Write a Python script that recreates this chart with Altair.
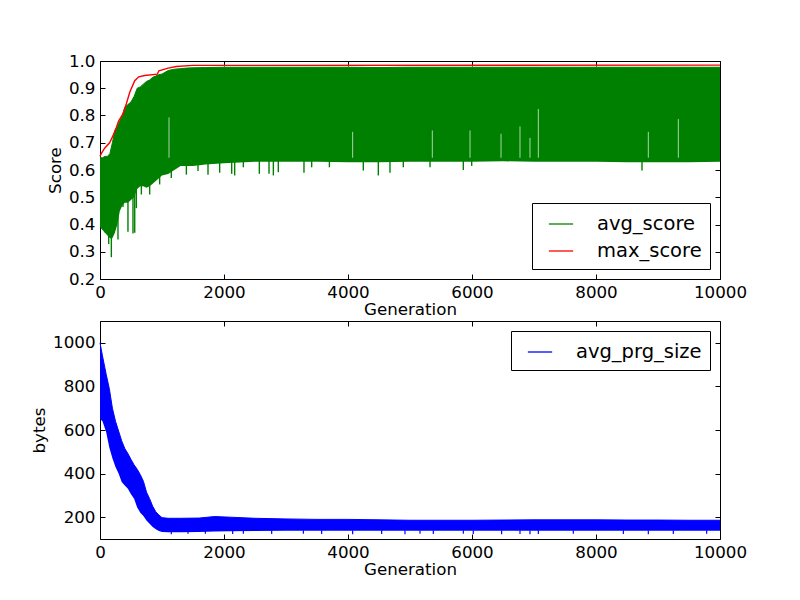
import altair as alt
import pandas as pd

# ---------------- data ----------------
# top panel: avg_score band (lower / upper envelope of the dense oscillation)
avg_gen = [0, 40, 80, 120, 160, 200, 240, 280, 320, 360, 400, 450, 500, 550, 600,
           650, 700, 750, 800, 850, 900, 950, 1000, 1100, 1200, 1300, 1400, 1500,
           1700, 2000, 2500, 3000, 3500, 4000, 4500, 5000, 5500, 6000, 6500, 7000,
           7500, 8000, 8500, 9000, 9500, 10000]
avg_hi = [0.645, 0.645, 0.65, 0.65, 0.66, 0.70, 0.745, 0.76, 0.78, 0.80, 0.83, 0.84,
          0.85, 0.87, 0.90, 0.905, 0.915, 0.925, 0.93, 0.94, 0.945, 0.95, 0.952, 0.965,
          0.97, 0.972, 0.974, 0.975, 0.976, 0.977, 0.977, 0.977, 0.977, 0.977, 0.976,
          0.977, 0.977, 0.977, 0.977, 0.977, 0.977, 0.977, 0.977, 0.977, 0.977, 0.977]
avg_lo = [0.39, 0.38, 0.37, 0.36, 0.35, 0.35, 0.37, 0.40, 0.45, 0.47, 0.48, 0.48,
          0.49, 0.50, 0.53, 0.54, 0.54, 0.535, 0.54, 0.55, 0.56, 0.57, 0.58, 0.585,
          0.60, 0.615, 0.615, 0.615, 0.62, 0.625, 0.63, 0.63, 0.63, 0.628, 0.628,
          0.63, 0.63, 0.63, 0.632, 0.63, 0.63, 0.63, 0.628, 0.628, 0.628, 0.63]
# downward spikes of avg_score
dip_gen = [32, 86, 140, 183, 226, 290, 371, 451, 532, 560, 586, 667, 801, 962,
           1150, 1393, 1581, 1742, 1930, 2124, 2172, 2312, 2570, 2726, 2796, 2876,
           3290, 3414, 3700, 4247, 4489, 4677, 4892, 5323, 5860, 5995, 8742]
dip_lo = [0.388, 0.37, 0.328, 0.28, 0.37, 0.345, 0.464, 0.373, 0.367, 0.37, 0.46,
          0.51, 0.51, 0.547, 0.571, 0.583, 0.596, 0.583, 0.59, 0.586, 0.58, 0.61,
          0.586, 0.586, 0.58, 0.592, 0.59, 0.61, 0.61, 0.598, 0.58, 0.59, 0.61, 0.61,
          0.60, 0.615, 0.598]
# pale gaps inside the avg_score band
gap_gen = [1113, 4075, 5360, 5968, 6468, 6774, 6935, 7070, 8844, 9328]
gap_top = [0.793, 0.74, 0.745, 0.745, 0.733, 0.76, 0.718, 0.824, 0.74, 0.787]

# max_score line
max_gen = [0, 20, 75, 155, 210, 265, 300, 370, 425, 480, 560, 625, 720, 925, 950,
           1100, 1230, 1500, 10000]
max_val = [0.65, 0.66, 0.68, 0.70, 0.726, 0.757, 0.78, 0.806, 0.843, 0.885, 0.928,
           0.942, 0.947, 0.952, 0.964, 0.974, 0.98, 0.984, 0.985]

# bottom panel: avg_prg_size band
prg_gen = [0, 40, 100, 150, 200, 250, 300, 350, 400, 450, 500, 550, 600, 650, 700,
           750, 800, 850, 900, 950, 1000, 1100, 1300, 1600, 1850, 2100, 2500, 3000,
           3500, 4000, 4500, 5000, 5500, 6000, 6500, 7000, 7500, 8000, 8500, 9000,
           9500, 10000]
prg_hi = [1000, 940, 855, 790, 700, 640, 595, 550, 515, 492, 465, 440, 420, 395, 365,
          315, 285, 250, 225, 210, 198, 195, 195, 196, 203, 200, 195, 192, 190, 190,
          188, 186, 186, 186, 187, 188, 188, 188, 187, 187, 186, 186]
prg_lo = [650, 640, 590, 520, 470, 430, 400, 362, 345, 330, 305, 285, 245, 220, 205,
          185, 170, 155, 145, 137, 132, 131, 131, 132, 134, 136, 137, 138, 138, 138,
          138, 138, 138, 138, 138, 138, 138, 138, 138, 138, 138, 138]
# downward spikes of avg_prg_size
pdip_gen = [1150, 1420, 1700, 2140, 2312, 2769, 3280, 3575, 4075, 4543, 4919, 5161,
            5376, 5860, 6021, 6478, 6774, 6935, 7070, 7634, 8441, 8844, 9247, 9785]
pdip_lo = [122, 124, 124, 123, 124, 123, 124, 123, 122, 123, 122, 124, 123, 124,
           123, 122, 123, 122, 123, 124, 123, 122, 123, 124]

x_ticks = [0, 2000, 4000, 6000, 8000, 10000]
score_ticks = [0.2, 0.3, 0.4, 0.5, 0.6, 0.7, 0.8, 0.9, 1.0]
bytes_ticks = [200, 400, 600, 800, 1000]

# ---------------- tables ----------------
df_avg = pd.DataFrame({"gen": avg_gen, "lo": avg_lo, "hi": avg_hi, "series": "avg_score"})
df_max = pd.DataFrame({"gen": max_gen, "val": max_val, "series": "max_score"})
df_dip = pd.DataFrame({"gen": dip_gen, "lo": dip_lo})
df_gap = pd.DataFrame({"gen": gap_gen, "top": gap_top})
df_prg = pd.DataFrame({"gen": prg_gen, "lo": prg_lo, "hi": prg_hi, "series": "avg_prg_size"})
df_pdip = pd.DataFrame({"gen": pdip_gen, "lo": pdip_lo})

FONT = "DejaVu Sans"
W, H = 620, 218
TICK = 5
GREEN, RED, BLUE = "#008000", "#ff0000", "#0000ff"

xs = alt.Scale(domain=[0, 10000], nice=False, zero=False)
ys_top = alt.Scale(domain=[0.2, 1.0], nice=False, zero=False)
ys_bot = alt.Scale(domain=[100, 1100], nice=False, zero=False)


def axis_common(orient, values, **kw):
    return alt.Axis(orient=orient, values=values, offset=-TICK, tickSize=TICK,
                    domain=False, grid=False, tickColor="black", tickWidth=1,
                    labelOverlap=False, labelFlush=False, **kw)


def ax_bottom():
    return axis_common("bottom", x_ticks, format="d", title="Generation",
                       labelPadding=5, titlePadding=1)


def ax_top():
    return axis_common("top", x_ticks, labels=False, title=None)


def ax_left(title, fmt, values):
    return axis_common("left", values, format=fmt, title=title,
                       labelPadding=5, titlePadding=4)


def ax_right(values):
    return axis_common("right", values, labels=False, title=None)


def legend(orient):
    return alt.Legend(title=None, orient=orient, offset=10, symbolType="stroke",
                      symbolSize=590, symbolStrokeWidth=1.3, labelFontSize=19.5,
                      labelFont=FONT, labelColor="black", strokeColor="black",
                      fillColor="white", padding=8, symbolOffset=8, labelOffset=23,
                      rowPadding=4, cornerRadius=0, labelLimit=400)


top_colors = alt.Scale(domain=["avg_score", "max_score"], range=[GREEN, RED])

top_area = alt.Chart(df_avg).mark_area(color=GREEN, opacity=1).encode(
    x=alt.X("gen:Q", scale=xs, axis=ax_bottom()),
    y=alt.Y("lo:Q", scale=ys_top, axis=ax_left("Score", ".1f", score_ticks)),
    y2="hi:Q",
)
top_dips = alt.Chart(df_dip).mark_rule(color=GREEN, strokeWidth=1.4).encode(
    x=alt.X("gen:Q", scale=xs, axis=None),
    y=alt.Y("lo:Q", scale=ys_top, axis=None),
    y2=alt.datum(0.64),
)
top_gaps = alt.Chart(df_gap).mark_rule(color="#a8d4a8", strokeWidth=1).encode(
    x=alt.X("gen:Q", scale=xs, axis=None),
    y=alt.Y("top:Q", scale=ys_top, axis=None),
    y2=alt.datum(0.645),
)
top_edge = alt.Chart(df_avg).mark_line(strokeWidth=1).encode(
    x=alt.X("gen:Q", scale=xs, axis=None),
    y=alt.Y("hi:Q", scale=ys_top, axis=None),
    color=alt.Color("series:N", scale=top_colors, legend=legend("bottom-right")),
)
top_max = alt.Chart(df_max).mark_line(strokeWidth=1.4).encode(
    x=alt.X("gen:Q", scale=xs, axis=ax_top()),
    y=alt.Y("val:Q", scale=ys_top, axis=ax_right(score_ticks)),
    color=alt.Color("series:N", scale=top_colors, legend=legend("bottom-right")),
)
top = alt.layer(top_area, top_dips, top_gaps, top_edge, top_max).resolve_axis(
    x="independent", y="independent"
).properties(width=W, height=H)

bot_colors = alt.Scale(domain=["avg_prg_size"], range=[BLUE])
bot_area = alt.Chart(df_prg).mark_area(color=BLUE, opacity=1).encode(
    x=alt.X("gen:Q", scale=xs, axis=ax_bottom()),
    y=alt.Y("lo:Q", scale=ys_bot, axis=ax_left("bytes", "d", bytes_ticks)),
    y2="hi:Q",
)
bot_dips = alt.Chart(df_pdip).mark_rule(color=BLUE, strokeWidth=1.2).encode(
    x=alt.X("gen:Q", scale=xs, axis=None),
    y=alt.Y("lo:Q", scale=ys_bot, axis=None),
    y2=alt.datum(140),
)
bot_edge = alt.Chart(df_prg).mark_line(strokeWidth=1).encode(
    x=alt.X("gen:Q", scale=xs, axis=ax_top()),
    y=alt.Y("hi:Q", scale=ys_bot, axis=ax_right(bytes_ticks)),
    color=alt.Color("series:N", scale=bot_colors, legend=legend("top-right")),
)
bottom = alt.layer(bot_area, bot_dips, bot_edge).resolve_axis(
    x="independent", y="independent"
).properties(width=W, height=H)

chart = alt.vconcat(top, bottom, spacing=1).resolve_scale(
    color="independent"
).resolve_legend(color="independent").properties(
    padding={"left": 23, "top": 44, "right": 10, "bottom": 5},
    background="white",
).configure_view(stroke="black", strokeWidth=1).configure_axis(
    labelFont=FONT, labelFontSize=16.7, labelColor="black",
    titleFont=FONT, titleFontSize=16.7, titleFontWeight="normal", titleColor="black",
)

chart.save("out.html", embed_options={"renderer": "svg", "actions": False})
